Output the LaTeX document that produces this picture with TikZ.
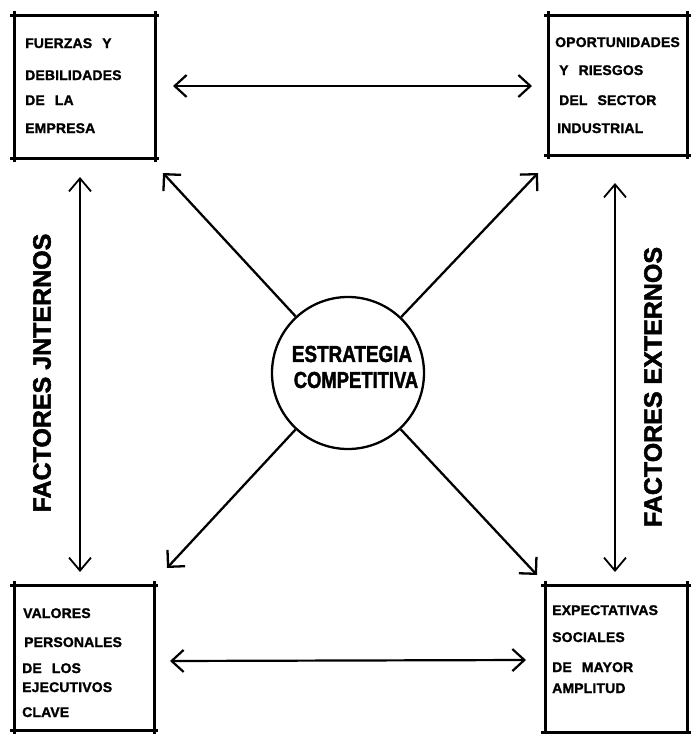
\documentclass[tikz,border=0pt]{standalone}
\usepackage{fontspec}
\setmainfont{Liberation Sans}
\newfontfamily\lblfont{Liberation Sans Bold}[WordSpace=2.5,LetterSpace=1,FakeBold=1.5]
\newfontfamily\bigfont{Liberation Sans Bold}[FakeBold=2]
\usetikzlibrary{arrows.meta}
\begin{document}
\begin{tikzpicture}[x=1pt,y=-1pt,
  boxframe/.style={draw=none,inner sep=0pt,outer sep=0pt},
  boxline/.style={line width=3pt,shorten <=-4pt,shorten >=-4pt},
  lbl/.style={anchor=base west,inner sep=0pt,font=\lblfont\fontsize{14}{16}\selectfont},
  side/.style={rotate=90,inner sep=0pt,font=\bigfont\fontsize{25}{28}\selectfont},
  ctext/.style={inner sep=0pt,font=\bigfont\fontsize{23}{26}\selectfont},
  darrow/.style={line width=2.2pt,{Straight Barb[length=12pt,width=22pt]}-{Straight Barb[length=12pt,width=22pt]}},
  varrow/.style={line width=1.8pt,{Straight Barb[length=13pt,width=22pt]}-{Straight Barb[length=13pt,width=22pt]}},
  sarrow/.style={line width=2.3pt,-{Straight Barb[length=12pt,width=24pt]}}
]
\useasboundingbox (0,0) rectangle (691,734);

% boxes
\node[boxframe,minimum width=141pt,minimum height=143pt] (tl) at (84.5,86.5) {};
\node[boxframe,minimum width=139pt,minimum height=140pt] (tr) at (617.5,85) {};
\node[boxframe,minimum width=140pt,minimum height=145pt] (bl) at (84,657.5) {};
\node[boxframe,minimum width=142pt,minimum height=147pt] (br) at (616,658.5) {};
\foreach \n in {tl,tr,bl,br}{
  \draw[boxline] (\n.north west) -- (\n.north east);
  \draw[boxline] (\n.south west) -- (\n.south east);
  \draw[boxline] (\n.north west) -- (\n.south west);
  \draw[boxline] (\n.north east) -- (\n.south east);
}

% box texts
\node[lbl] (tl1) at (25,48) {FUERZAS Y};
\node[lbl] (tl2) at (25,80) {DEBILIDADES};
\node[lbl] (tl3) at (25,105) {DE LA};
\node[lbl] (tl4) at (25,133) {EMPRESA};

\node[lbl] (tr1) at (555,47) {OPORTUNIDADES};
\node[lbl] (tr2) at (559,75) {Y RIESGOS};
\node[lbl] (tr3) at (559,105) {DEL SECTOR};
\node[lbl] (tr4) at (557,133) {INDUSTRIAL};

\node[lbl] (bl1) at (23,618) {VALORES};
\node[lbl] (bl2) at (24,647) {PERSONALES};
\node[lbl] (bl3) at (22,673) {DE LOS};
\node[lbl] (bl4) at (22,692) {EJECUTIVOS};
\node[lbl] (bl5) at (22,717) {CLAVE};

\node[lbl] (br1) at (552,615) {EXPECTATIVAS};
\node[lbl] (br2) at (552,642) {SOCIALES};
\node[lbl] (br3) at (552,672) {DE MAYOR};
\node[lbl] (br4) at (552,693) {AMPLITUD};

% central circle
\node[circle,draw,line width=2.3pt,minimum size=152pt,inner sep=0pt] (c) at (348,373) {};
\node[ctext] (c1) at (352,354) {\scalebox{0.82}[1]{ESTRATEGIA}};
\node[ctext] (c2) at (356,380) {\scalebox{0.8}[1]{COMPETITIVA}};

% side labels
\node[side] (fi) at (42,373) {FACTORES JNTERNOS};
\node[side] (fe) at (653,387) {FACTORES EXTERNOS};

% arrow end points
\coordinate (h1a) at (173,86);
\coordinate (h1b) at (532,86);
\coordinate (h2a) at (170,661);
\coordinate (h2b) at (526,660);
\coordinate (v1a) at (80,177);
\coordinate (v1b) at (80,572);
\coordinate (v2a) at (615,183);
\coordinate (v2b) at (615,572);
\coordinate (d1) at (163,173);
\coordinate (d2) at (538,173);
\coordinate (d3) at (167,568);
\coordinate (d4) at (537,575);

% arrows
\draw[darrow] (h1a) -- (h1b);
\draw[darrow] (h2a) -- (h2b);
\draw[varrow] (v1a) -- (v1b);
\draw[varrow] (v2a) -- (v2b);
\draw[sarrow] (c) -- (d1);
\draw[sarrow] (c) -- (d2);
\draw[sarrow] (c) -- (d3);
\draw[sarrow] (c) -- (d4);
\end{tikzpicture}
\end{document}
